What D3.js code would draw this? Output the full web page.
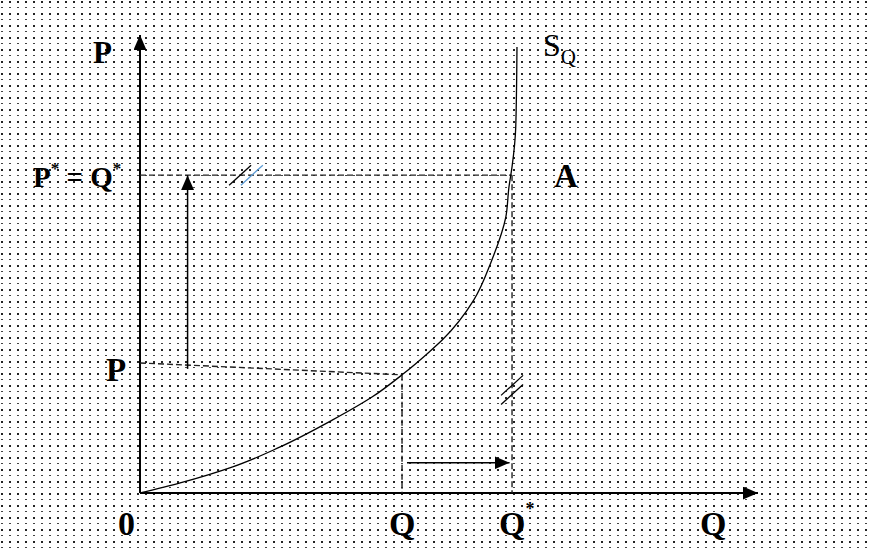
<!DOCTYPE html>
<html>
<head>
<meta charset="utf-8">
<script src="https://cdn.jsdelivr.net/npm/d3@7"></script>
<style>
  body { margin: 0; background: #fff; }
  svg text { font-family: "Liberation Serif", "DejaVu Serif", serif; fill: #000; }
</style>
</head>
<body>
<div class="vis"></div>
<script>
// supply curve S_Q diagram

const FRAME_WIDTH = 873;
const FRAME_HEIGHT = 550;

// supply curve points (Q, P), in chart units 0-100
const CURVE_Q = [0, 6.5, 15.0, 22.6, 31.1, 37.6, 42.4, 46.8, 48.9, 54.0, 56.8, 59.2, 59.7, 60.2, 60.8, 61.0];
const CURVE_P = [0, 2.2, 5.7, 10.0, 15.9, 21.0, 25.8, 30.8, 33.4, 42.1, 50.4, 60.3, 66.8, 71.2, 79.9, 97.4];

// reference values
const Q_POINT = 42.4;   // Q
const Q_STAR = 60.2;    // Q*
const P_LABEL = 28.4;   // P on the vertical axis
const P_CURVE = 25.8;   // P on the curve at Q
const P_STAR = 69.4;    // P* = Q*
const AXIS_MAX = 100;

// arrows: [x1, y1, x2, y2] in chart units
const UP_ARROW = [7.7, 27.1, 7.7, P_STAR];
const RIGHT_ARROW = [43.2, 6.6, 59.8, 6.6];

const X_SCALE = d3.scaleLinear().domain([0, AXIS_MAX]).range([140, 758]);
const Y_SCALE = d3.scaleLinear().domain([0, AXIS_MAX]).range([493, 35]);

const FRAME = d3.select('.vis')
    .append('svg')
        .attr('width', FRAME_WIDTH)
        .attr('height', FRAME_HEIGHT);

const defs = FRAME.append('defs');

// dotted background texture
const pat = defs.append('pattern')
    .attr('id', 'dots')
    .attr('width', 8).attr('height', 12)
    .attr('patternUnits', 'userSpaceOnUse');
pat.append('rect').attr('x', 1).attr('y', 1).attr('width', 2).attr('height', 2).attr('fill', '#222');
pat.append('rect').attr('x', 1).attr('y', 7).attr('width', 2).attr('height', 1).attr('fill', '#444');

FRAME.append('rect')
    .attr('width', FRAME_WIDTH).attr('height', FRAME_HEIGHT)
    .attr('fill', 'url(#dots)');

// arrow head markers
function addMarker(id, len, wid) {
    defs.append('marker')
        .attr('id', id)
        .attr('markerUnits', 'userSpaceOnUse')
        .attr('viewBox', `0 0 ${len} ${wid}`)
        .attr('refX', len).attr('refY', wid / 2)
        .attr('markerWidth', len).attr('markerHeight', wid)
        .attr('orient', 'auto')
      .append('path')
        .attr('d', `M0,0 L${len},${wid / 2} L0,${wid} Z`)
        .attr('fill', '#000');
}
addMarker('axisHead', 15, 13);
addMarker('smallHead', 15, 13);

// axes
FRAME.append('line')
    .attr('x1', X_SCALE(0)).attr('y1', Y_SCALE(0))
    .attr('x2', X_SCALE(AXIS_MAX)).attr('y2', Y_SCALE(0))
    .attr('stroke', '#000').attr('stroke-width', 2)
    .attr('marker-end', 'url(#axisHead)');

FRAME.append('line')
    .attr('x1', X_SCALE(0)).attr('y1', Y_SCALE(0))
    .attr('x2', X_SCALE(0)).attr('y2', Y_SCALE(AXIS_MAX))
    .attr('stroke', '#000').attr('stroke-width', 2)
    .attr('marker-end', 'url(#axisHead)');

// dashed guide lines
const guides = [
    [0, P_STAR, Q_STAR, P_STAR],
    [Q_STAR, P_STAR, Q_STAR, 0],
    [0, P_LABEL, Q_POINT, P_CURVE],
    [Q_POINT, P_CURVE, Q_POINT, 0]
];
FRAME.selectAll('.guide')
    .data(guides)
    .enter().append('line')
    .attr('class', 'guide')
    .attr('x1', (d) => X_SCALE(d[0])).attr('y1', (d) => Y_SCALE(d[1]))
    .attr('x2', (d) => X_SCALE(d[2])).attr('y2', (d) => Y_SCALE(d[3]))
    .attr('stroke', '#222').attr('stroke-width', 1.4)
    .attr('stroke-dasharray', '6,3');

// supply curve
const curveData = CURVE_Q.map((q, i) => ({q: q, p: CURVE_P[i]}));
FRAME.append('path')
    .datum(curveData)
    .attr('fill', 'none')
    .attr('stroke', '#000')
    .attr('stroke-width', 1.3)
    .attr('d', d3.line()
        .x((d) => X_SCALE(d.q))
        .y((d) => Y_SCALE(d.p))
        .curve(d3.curveMonotoneY));

// movement arrows
FRAME.selectAll('.move')
    .data([UP_ARROW, RIGHT_ARROW])
    .enter().append('line')
    .attr('class', 'move')
    .attr('x1', (d) => X_SCALE(d[0])).attr('y1', (d) => Y_SCALE(d[1]))
    .attr('x2', (d) => X_SCALE(d[2])).attr('y2', (d) => Y_SCALE(d[3]))
    .attr('stroke', '#000').attr('stroke-width', 1.5)
    .attr('marker-end', 'url(#smallHead)');

// equal-length tick marks
const pStarY = Y_SCALE(P_STAR);
const qStarX = X_SCALE(Q_STAR);
const slashes = [
    {x: X_SCALE(16.2), y: pStarY, c: '#000'},
    {x: X_SCALE(18.1), y: pStarY, c: '#5b9bd5'},
    {x: qStarX, y: Y_SCALE(23.5), c: '#000'},
    {x: qStarX, y: Y_SCALE(21.5), c: '#000'}
];
FRAME.selectAll('.slash')
    .data(slashes)
    .enter().append('line')
    .attr('class', 'slash')
    .attr('x1', (d) => d.x - 11).attr('y1', (d) => d.y + 10)
    .attr('x2', (d) => d.x + 11).attr('y2', (d) => d.y - 10)
    .attr('stroke', (d) => d.c).attr('stroke-width', 1.3);

// labels
function label(x, y, txt, size, weight) {
    return FRAME.append('text')
        .attr('x', x).attr('y', y)
        .attr('font-size', size + 'px')
        .attr('font-weight', weight || 'bold')
        .text(txt);
}

label(93, 63, 'P', 31);
label(106, 381, 'P', 33);
label(118, 535, '0', 34);
label(389, 535, 'Q', 34);
label(700, 535, 'Q', 34);
label(554, 187, 'A', 33);

// Q*
const qs = label(499, 535, 'Q', 34);
qs.append('tspan').attr('font-size', '18px').attr('dy', -20).text('*');

// P* = Q*
const pq = FRAME.append('text')
    .attr('x', 33).attr('y', 187)
    .attr('font-size', '29px')
    .attr('font-weight', 'bold');
pq.append('tspan').text('P');
pq.append('tspan').attr('font-size', '17px').attr('dy', -13).text('*');
pq.append('tspan').attr('dy', 13).text(' = Q');
pq.append('tspan').attr('font-size', '17px').attr('dy', -13).text('*');

// S_Q
const sq = FRAME.append('text')
    .attr('x', 543).attr('y', 56)
    .attr('font-size', '32px');
sq.append('tspan').text('S');
sq.append('tspan').attr('font-size', '21px').attr('dy', 8).text('Q');
</script>
</body>
</html>
